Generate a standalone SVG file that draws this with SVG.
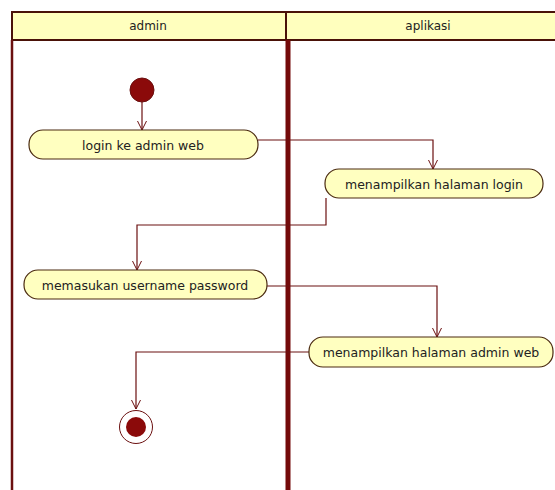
<svg xmlns="http://www.w3.org/2000/svg" width="555" height="490" viewBox="0 0 555 490">
<defs>
<marker id="arr" markerWidth="12" markerHeight="12" refX="10" refY="6" orient="auto" markerUnits="userSpaceOnUse">
<path d="M1,1.5 L10,6 L1,10.5" fill="none" stroke="#6b1010" stroke-width="1"/>
</marker>
</defs>
<style>
.lane{fill:#ffffff;stroke:none}
.hdr{fill:#ffffbe;stroke:#4a1208;stroke-width:2}
.ht{font-family:Tahoma,"DejaVu Sans",sans-serif;font-size:12px;fill:#222;text-anchor:middle}
.act{fill:#ffffc0;stroke:#4a2a10;stroke-width:1.2}
.at{font-family:"DejaVu Sans",sans-serif;font-size:12.5px;fill:#222;text-anchor:middle}
.c{fill:none;stroke:#6b1010;stroke-width:1.2}
</style>
<rect width="555" height="490" fill="#ffffff"/>
<g id="swimlanes">
<rect class="hdr" x="12" y="12" width="560" height="28"/>
<line x1="286" y1="12" x2="286" y2="40" stroke="#4a1208" stroke-width="2"/>
<line x1="12" y1="40" x2="12" y2="490" stroke="#6b1010" stroke-width="2.5"/>
<line x1="288" y1="40" x2="288" y2="490" stroke="#740a0a" stroke-width="5"/>
<text class="ht" x="148" y="30">admin</text>
<text class="ht" x="428" y="30">aplikasi</text>
</g>
<g id="connectors">
<line class="c" x1="142" y1="102" x2="142" y2="130" marker-end="url(#arr)"/>
<polyline class="c" points="258,140 433,140 433,169" marker-end="url(#arr)"/>
<polyline class="c" points="326,198 326,225 137,225 137,270" marker-end="url(#arr)"/>
<polyline class="c" points="267,286 437,286 437,337" marker-end="url(#arr)"/>
<polyline class="c" points="309,352 136,352 136,409" marker-end="url(#arr)"/>
</g>
<g id="start">
<circle cx="142" cy="90" r="12" fill="#8b0a0a" stroke="#6b1010" stroke-width="1"/>
</g>
<g id="login">
<rect class="act" x="29" y="130" width="229" height="29" rx="14" ry="14"/>
<text class="at" x="143" y="149.5">login ke admin web</text>
</g>
<g id="halaman-login">
<rect class="act" x="325" y="169" width="218" height="29" rx="14" ry="14"/>
<text class="at" x="434" y="188.5">menampilkan halaman login</text>
</g>
<g id="memasukan">
<rect class="act" x="24" y="270" width="243" height="29" rx="14" ry="14"/>
<text class="at" x="145" y="289.5">memasukan username password</text>
</g>
<g id="halaman-admin">
<rect class="act" x="309" y="337" width="244" height="30" rx="14" ry="14"/>
<text class="at" x="431" y="357">menampilkan halaman admin web</text>
</g>
<g id="end">
<circle cx="136" cy="427" r="16.5" fill="#ffffff" stroke="#6b1010" stroke-width="1"/>
<circle cx="136" cy="427" r="10" fill="#8b0a0a"/>
</g>
</svg>
